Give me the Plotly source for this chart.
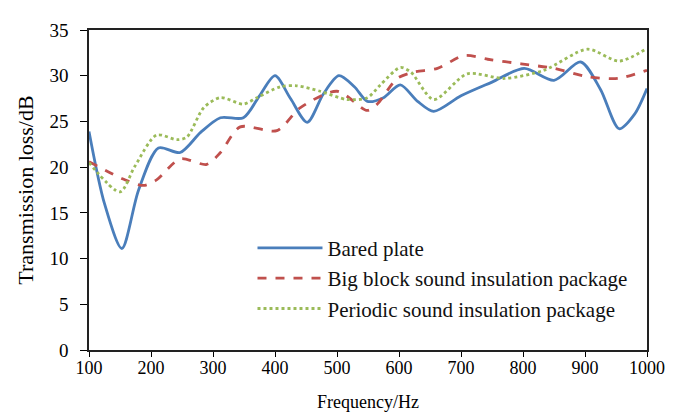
import plotly.graph_objects as go

freq_bare = [100, 125, 153, 180, 212, 247, 280, 312, 349, 375, 400, 425, 452, 478, 503, 528, 549, 575, 602, 630, 656, 700, 750, 802, 850, 893, 925, 955, 980, 1000]
tl_bare = [23.9, 16.0, 11.1, 17.5, 22.1, 21.6, 23.8, 25.4, 25.4, 27.8, 30.0, 27.5, 24.9, 28.0, 30.0, 28.8, 27.2, 27.6, 29.0, 27.2, 26.1, 27.8, 29.3, 30.8, 29.5, 31.5, 28.5, 24.2, 25.8, 28.6]

freq_big = [100, 155, 188, 209, 247, 290, 312, 344, 403, 441, 500, 549, 565, 597, 624, 662, 705, 743, 797, 850, 904, 953, 1000]
tl_big = [20.6, 18.7, 18.0, 18.6, 20.9, 20.3, 21.6, 24.4, 24.0, 26.5, 28.3, 26.2, 26.9, 29.7, 30.4, 30.8, 32.2, 31.8, 31.3, 30.8, 29.9, 29.7, 30.6]

freq_per = [100, 150, 174, 209, 242, 258, 285, 312, 349, 371, 409, 435, 473, 516, 549, 570, 602, 619, 656, 710, 770, 834, 904, 955, 1000]
tl_per = [20.5, 17.3, 20.1, 23.5, 23.0, 23.3, 26.5, 27.6, 26.9, 27.6, 28.8, 28.9, 28.3, 27.4, 27.6, 29.0, 30.9, 30.4, 27.4, 30.2, 29.7, 30.6, 32.9, 31.6, 33.0]

x_ticks = [100, 200, 300, 400, 500, 600, 700, 800, 900, 1000]
y_ticks = [0, 5, 10, 15, 20, 25, 30, 35]

font = "Liberation Serif, Times New Roman, serif"

fig = go.Figure()
fig.add_trace(go.Scatter(x=freq_bare, y=tl_bare, mode="lines", name="Bared plate",
                         line=dict(color="#4a7ebb", width=2.8, shape="spline", smoothing=0.8)))
fig.add_trace(go.Scatter(x=freq_big, y=tl_big, mode="lines", name="Big block sound insulation package",
                         line=dict(color="#c0504d", width=2.8, dash="dash", shape="spline", smoothing=0.8)))
fig.add_trace(go.Scatter(x=freq_per, y=tl_per, mode="lines", name="Periodic sound insulation package",
                         line=dict(color="#9bbb59", width=2.8, dash="dot", shape="spline", smoothing=0.8)))

fig.update_layout(
    width=681, height=413,
    margin=dict(l=81, r=42, t=12, b=71),
    paper_bgcolor="white", plot_bgcolor="white",
    font=dict(family=font, size=16, color="black"),
    legend=dict(x=0.293, y=0.382, xanchor="left", yanchor="top",
                bgcolor="rgba(0,0,0,0)", font=dict(family=font, size=21, color="#111"),
                itemwidth=65, tracegroupgap=0),
    showlegend=True,
)
fig.update_xaxes(range=[100, 1000], tickvals=x_ticks, ticks="outside", ticklen=5,
                 tickcolor="black", showline=True, linecolor="#222", linewidth=1.5,
                 mirror=True, showgrid=False, zeroline=False,
                 tickfont=dict(family=font, size=18), ticklabelstandoff=-4,
                 title=dict(text="Frequency/Hz", font=dict(family=font, size=18), standoff=18))
fig.update_yaxes(range=[0, 35], tickvals=y_ticks, ticks="outside", ticklen=7,
                 tickcolor="black", showline=True, linecolor="#222", linewidth=1.5,
                 mirror=True, showgrid=False, zeroline=False,
                 tickfont=dict(family=font, size=19), ticklabelstandoff=8,
                 title=dict(text="Transmission loss/dB", font=dict(family=font, size=22), standoff=10))

fig.write_html("out.html")
